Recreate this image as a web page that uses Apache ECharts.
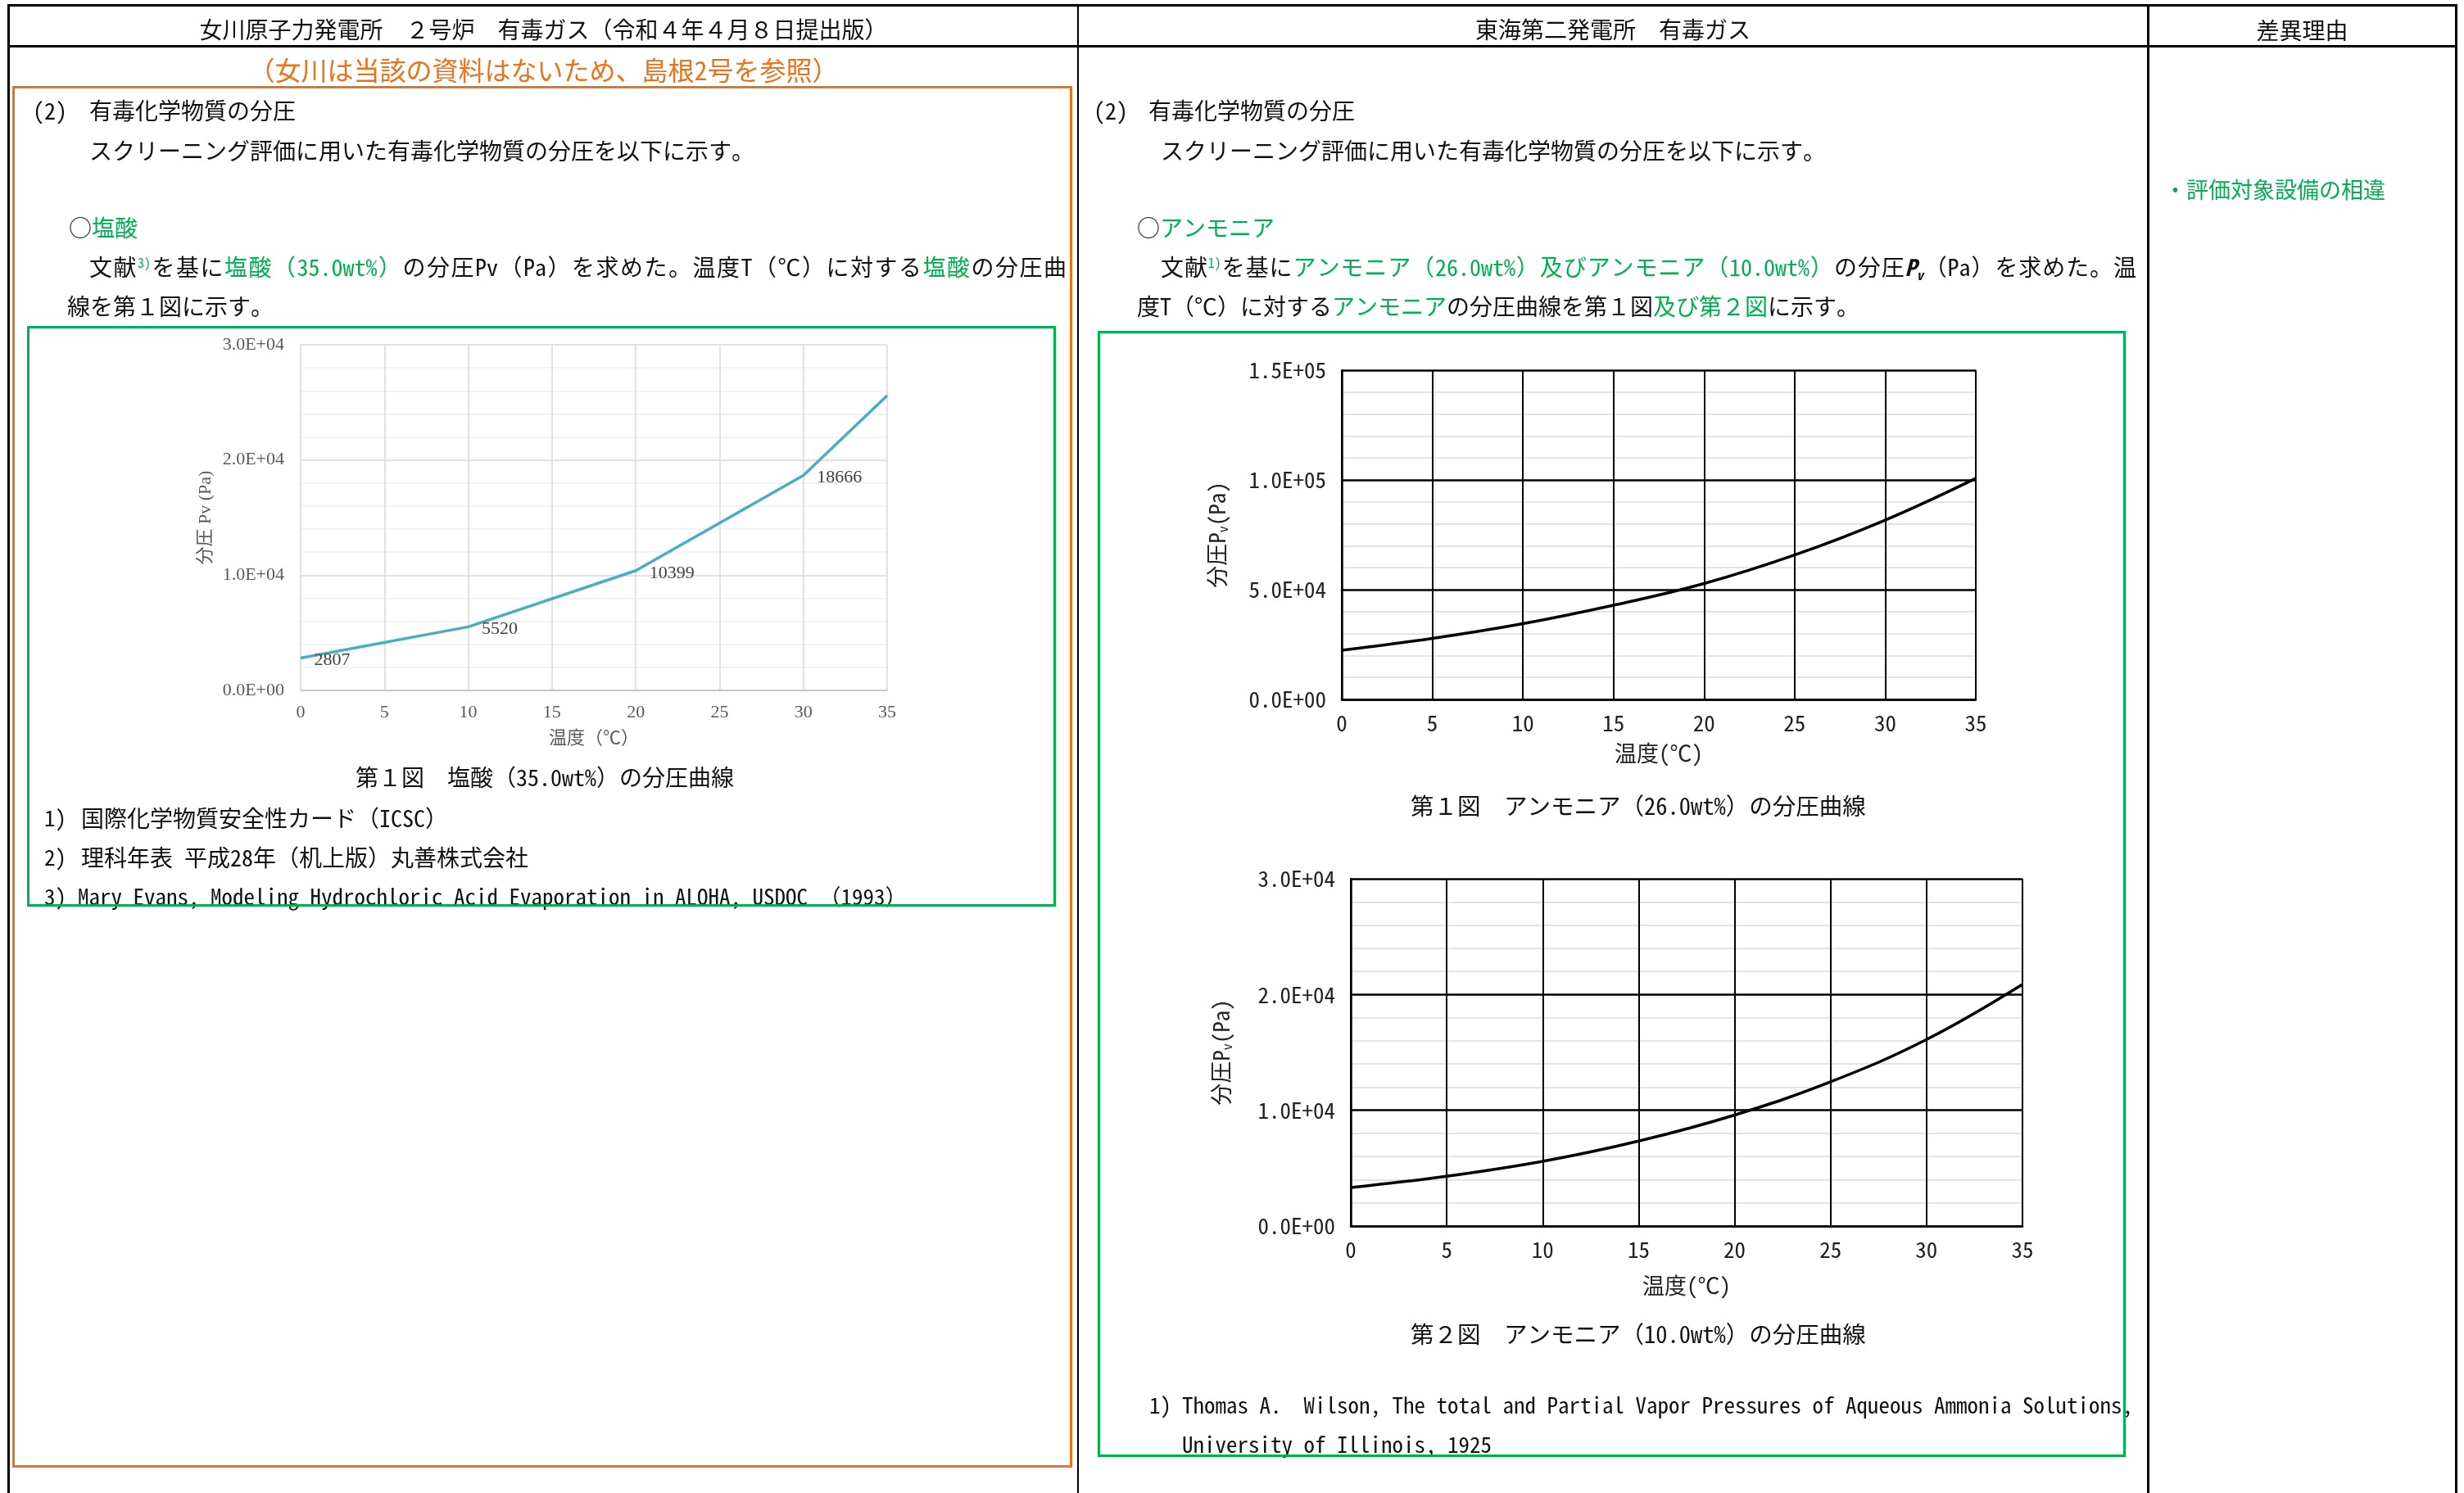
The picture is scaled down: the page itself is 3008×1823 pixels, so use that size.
<!DOCTYPE html>
<html>
<head>
<meta charset="utf-8">
<script src="https://cdn.jsdelivr.net/npm/echarts@6/dist/echarts.min.js"></script>
<style>
body {
  margin: 0;
  width: 3008px;
  height: 1823px;
  background: #fff;
  position: relative;
  overflow: hidden;
  font-family: "Noto Sans Mono CJK JP", "Noto Sans CJK JP", sans-serif;
  font-size: 28px;
  color: #111;
}
#chart { position: absolute; left: 0; top: 0; width: 3008px; height: 1823px; z-index: 1; }
.t { position: absolute; white-space: pre; line-height: 36px; z-index: 2; }
.j { white-space: normal; text-align: justify; text-align-last: justify; }
.g { color: #00B050; }
.o { color: #E8731A; }
.fn { font-size: 27px; }
.ln { position: absolute; background: #000; z-index: 3; }
.box { position: absolute; box-sizing: border-box; z-index: 3; }
sup { font-size: 16px; vertical-align: 10px; line-height: 0; }
.pv sub { font-size: 16px; vertical-align: -5px; line-height: 0; }
</style>
</head>
<body>
<!-- 表の罫線 -->
<div class="ln" style="left:9px;top:5px;width:2991px;height:3px"></div>
<div class="ln" style="left:9px;top:55px;width:2991px;height:3px"></div>
<div class="ln" style="left:9px;top:5px;width:3px;height:1818px"></div>
<div class="ln" style="left:2997px;top:5px;width:3px;height:1818px"></div>
<div class="ln" style="left:1315px;top:5px;width:2px;height:1818px"></div>
<div class="ln" style="left:2621px;top:5px;width:3px;height:1818px"></div>

<!-- 枠 -->
<div class="box" style="left:15px;top:105px;width:1294px;height:1687px;border:3px solid #E8731A"></div>
<div class="box" style="left:33px;top:398px;width:1256px;height:709px;border:3px solid #00B050"></div>
<div class="box" style="left:1340px;top:404px;width:1255px;height:1375px;border:3px solid #00B050"></div>

<!-- 見出し -->
<div class="t" style="left:12px;width:1303px;top:17px;text-align:center">女川原子力発電所　２号炉　有毒ガス（令和４年４月８日提出版）</div>
<div class="t" style="left:1317px;width:1304px;top:17px;text-align:center">東海第二発電所　有毒ガス</div>
<div class="t" style="left:2624px;width:373px;top:18px;text-align:center">差異理由</div>

<!-- 左列 -->
<div class="t o" style="left:12px;width:1303px;top:66px;text-align:center;font-size:32px">（女川は当該の資料はないため、島根2号を参照）</div>
<div class="t" style="left:40px;top:116px">(2)</div>
<div class="t" style="left:109px;top:116px">有毒化学物質の分圧</div>
<div class="t" style="left:109px;top:165px">スクリーニング評価に用いた有毒化学物質の分圧を以下に示す。</div>
<div class="t" style="left:84px;top:259px">○<span class="g">塩酸</span></div>
<div class="t j" style="left:109px;width:1193px;top:307px">文献<sup class="g">3)</sup>を基に<span class="g">塩酸（35.0wt%）</span>の分圧Pv（Pa）を求めた。温度T（℃）に対する<span class="g">塩酸</span>の分圧曲</div>
<div class="t" style="left:82px;top:355px">線を第１図に示す。</div>
<div class="t" style="left:415px;width:500px;top:930px;text-align:center">第１図　塩酸（35.0wt%）の分圧曲線</div>
<div class="t fn" style="left:54px;top:980px">1)</div>
<div class="t" style="left:99px;top:980px">国際化学物質安全性カード（ICSC）</div>
<div class="t fn" style="left:54px;top:1028px">2)</div>
<div class="t" style="left:99px;top:1028px">理科年表 平成28年（机上版）丸善株式会社</div>
<div class="t fn" style="left:54px;top:1076px">3)</div>
<div class="t fn" style="left:95px;top:1076px">Mary Evans, Modeling Hydrochloric Acid Evaporation in ALOHA, USDOC　（1993）</div>

<!-- 右列 -->
<div class="t" style="left:1335px;top:116px">(2)</div>
<div class="t" style="left:1402px;top:116px">有毒化学物質の分圧</div>
<div class="t" style="left:1417px;top:165px">スクリーニング評価に用いた有毒化学物質の分圧を以下に示す。</div>
<div class="t" style="left:1388px;top:259px">○<span class="g">アンモニア</span></div>
<div class="t j pv" style="left:1417px;width:1191px;top:307px">文献<sup class="g">1)</sup>を基に<span class="g">アンモニア（26.0wt%）及びアンモニア（10.0wt%）</span>の分圧<b><i>P<sub>v</sub></i></b>（Pa）を求めた。温</div>
<div class="t" style="left:1388px;top:355px">度T（℃）に対する<span class="g">アンモニア</span>の分圧曲線を第１図<span class="g">及び第２図</span>に示す。</div>
<div class="t" style="left:1680px;width:640px;top:965px;text-align:center;font-size:28.5px">第１図　アンモニア（26.0wt%）の分圧曲線</div>
<div class="t" style="left:1680px;width:640px;top:1610px;text-align:center;font-size:28.5px">第２図　アンモニア（10.0wt%）の分圧曲線</div>
<div class="t fn" style="left:1403px;top:1697px">1)</div>
<div class="t fn" style="left:1443px;top:1697px">Thomas A.  Wilson, The total and Partial Vapor Pressures of Aqueous Ammonia Solutions,</div>
<div class="t fn" style="left:1443px;top:1745px">University of Illinois, 1925</div>

<!-- 差異理由 -->
<div class="t g" style="left:2642px;top:213px;font-size:27px">・評価対象設備の相違</div>

<div id="chart"></div>

<script>
// 塩酸（35.0wt%）
const hclTemp = [0, 10, 20, 30, 35]
const hclPv = [2807, 5520, 10399, 18666, 25600]
// アンモニア（第１図 26.0wt%、第２図 10.0wt%）
const nh3Temp = [0, 5, 10, 15, 20, 25, 30, 35]
const nh3Pv26 = [22400, 27800, 34500, 42900, 52800, 65800, 81700, 100700]
const nh3Pv10 = [3330, 4300, 5590, 7340, 9590, 12460, 16110, 20870]

const SERIF = '"Liberation Serif", "Noto Sans CJK JP", serif'
const MONO = '"Noto Sans Mono CJK JP", "Noto Sans CJK JP", monospace'

// 0.0E+00 形式
function sci(v) {
  if (v === 0) return '0.0E+00'
  const e = Math.floor(Math.log10(v) + 1e-9)
  const m = v / Math.pow(10, e)
  return m.toFixed(1) + 'E+' + String(e).padStart(2, '0')
}

function pairs(xs, ys) {
  return xs.map((x, i) => [x, ys[i]])
}

const chartInstance = echarts.init(document.getElementById('chart'))

// 右側２枚の共通設定
function blackX(gi, gap) {
  return {
    gridIndex: gi,
    type: 'value',
    min: 0,
    max: 35,
    interval: 5,
    axisLine: { lineStyle: { color: '#000', width: 2.5 } },
    axisTick: { show: false },
    axisLabel: { margin: 15, color: '#222', fontSize: 27, fontFamily: MONO },
    splitLine: { lineStyle: { color: '#000', width: 2 } },
    name: '温度(℃)',
    nameLocation: 'middle',
    nameGap: gap,
    nameTextStyle: { color: '#222', fontSize: 27, fontFamily: MONO },
  }
}
function blackY(gi, max, interval, gap) {
  return {
    gridIndex: gi,
    type: 'value',
    min: 0,
    max: max,
    interval: interval,
    axisLine: { show: true, lineStyle: { color: '#000', width: 2.5 } },
    axisTick: { show: false },
    axisLabel: { margin: 19, color: '#222', fontSize: 27, fontFamily: MONO, formatter: sci },
    splitLine: { lineStyle: { color: '#000', width: 2.5 } },
    minorTick: { show: false, splitNumber: 5 },
    minorSplitLine: { show: true, lineStyle: { color: '#dcdcdc', width: 1.5 } },
    name: '{a|分圧P}{s|v}{a|(Pa)}',
    nameLocation: 'middle',
    nameGap: gap,
    nameTextStyle: {
      rich: {
        a: { color: '#222', fontSize: 27, fontFamily: MONO },
        s: { color: '#222', fontSize: 16, fontFamily: MONO, padding: [14, 0, 0, 0] },
      },
    },
  }
}

const option = {
  animation: false,
  backgroundColor: 'transparent',
  grid: [
    { left: 367, top: 421, width: 716, height: 422 },
    { left: 1638, top: 452, width: 774, height: 402 },
    { left: 1649, top: 1073, width: 820, height: 424 },
  ],
  xAxis: [
    {
      gridIndex: 0,
      type: 'value',
      min: 0,
      max: 35,
      interval: 5,
      axisLine: { lineStyle: { color: '#bfbfbf', width: 1.5 } },
      axisTick: { show: false },
      axisLabel: { margin: 16, color: '#595959', fontSize: 22, fontFamily: SERIF },
      splitLine: { lineStyle: { color: '#d9d9d9', width: 1.5 } },
      name: '温度（℃）',
      nameLocation: 'middle',
      nameGap: 48,
      nameTextStyle: { color: '#595959', fontSize: 22, fontFamily: SERIF },
    },
    blackX(1, 52),
    blackX(2, 59),
  ],
  yAxis: [
    {
      gridIndex: 0,
      type: 'value',
      min: 0,
      max: 30000,
      interval: 10000,
      axisLine: { show: false },
      axisTick: { show: false },
      axisLabel: { margin: 20, color: '#595959', fontSize: 22, fontFamily: SERIF, formatter: sci },
      splitLine: { lineStyle: { color: '#d9d9d9', width: 1.5 } },
      minorTick: { show: false, splitNumber: 5 },
      minorSplitLine: { show: true, lineStyle: { color: '#efefef', width: 1.5 } },
      name: '分圧 Pv (Pa)',
      nameLocation: 'middle',
      nameGap: 105,
      nameTextStyle: { color: '#595959', fontSize: 22, fontFamily: SERIF },
    },
    blackY(1, 150000, 50000, 137),
    blackY(2, 30000, 10000, 143),
  ],
  series: [
    {
      type: 'line',
      xAxisIndex: 0,
      yAxisIndex: 0,
      data: pairs(hclTemp, hclPv),
      symbol: 'circle',
      symbolSize: 1,
      itemStyle: { color: '#4BACC6' },
      lineStyle: { color: '#4BACC6', width: 3.5 },
      label: {
        show: true,
        position: 'right',
        distance: 16,
        offset: [0, 3],
        color: '#404040',
        fontSize: 22,
        fontFamily: SERIF,
        formatter: (p) => (p.dataIndex === hclPv.length - 1 ? '' : String(p.value[1])),
      },
    },
    {
      type: 'line',
      xAxisIndex: 1,
      yAxisIndex: 1,
      data: pairs(nh3Temp, nh3Pv26),
      smooth: 0.4,
      symbol: 'none',
      lineStyle: { color: '#000', width: 3.5 },
    },
    {
      type: 'line',
      xAxisIndex: 2,
      yAxisIndex: 2,
      data: pairs(nh3Temp, nh3Pv10),
      smooth: 0.4,
      symbol: 'none',
      lineStyle: { color: '#000', width: 3.5 },
    },
  ],
}
chartInstance.setOption(option)
</script>
</body>
</html>
